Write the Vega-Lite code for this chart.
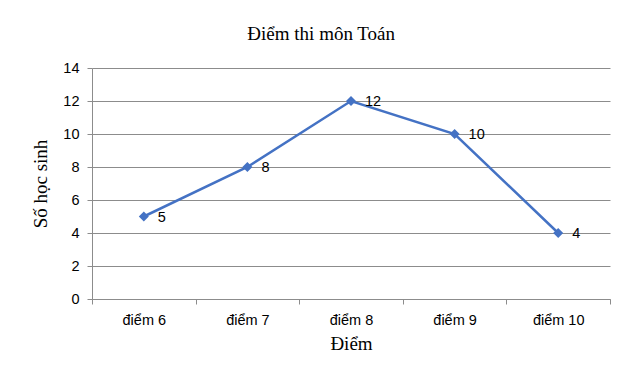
{
  "$schema": "https://vega.github.io/schema/vega-lite/v6.json",
  "autosize": {"type": "none"},
  "width": 518,
  "height": 231,
  "padding": {"left": 92, "top": 68, "right": 27, "bottom": 93},
  "background": "white",
  "config": {"view": {"stroke": null}},
  "title": {
    "text": "Điểm thi môn Toán",
    "font": "Liberation Serif",
    "fontSize": 19,
    "fontWeight": "normal",
    "color": "#000000",
    "anchor": "middle",
    "frame": "bounds",
    "offset": 16
  },
  "data": {
    "values": [
      {"diem": "điểm 6", "so": 5},
      {"diem": "điểm 7", "so": 8},
      {"diem": "điểm 8", "so": 12},
      {"diem": "điểm 9", "so": 10},
      {"diem": "điểm 10", "so": 4}
    ]
  },
  "encoding": {
    "x": {
      "field": "diem",
      "type": "ordinal",
      "sort": null,
      "scale": {"paddingInner": 0, "paddingOuter": 0, "type": "band"},
      "axis": {
        "title": "Điểm",
        "titleFont": "Liberation Serif",
        "titleFontSize": 19,
        "titleFontWeight": "normal",
        "titleColor": "#000000",
        "titlePadding": 8,
        "labelFont": "Liberation Sans",
        "labelFontSize": 14.5,
        "labelColor": "#000000",
        "labelAngle": 0,
        "labelPadding": 9,
        "domainColor": "#8c8c8c",
        "tickColor": "#8c8c8c",
        "tickSize": 5,
        "tickBand": "extent",
        "grid": false
      }
    },
    "y": {
      "field": "so",
      "type": "quantitative",
      "scale": {"domain": [0, 14]},
      "axis": {
        "title": "Số học sinh",
        "titleFont": "Liberation Serif",
        "titleFontSize": 19,
        "titleFontWeight": "normal",
        "titleColor": "#000000",
        "titlePadding": 12,
        "values": [0, 2, 4, 6, 8, 10, 12, 14],
        "labelFont": "Liberation Sans",
        "labelFontSize": 14.5,
        "labelColor": "#000000",
        "labelPadding": 8,
        "domainColor": "#8c8c8c",
        "tickColor": "#8c8c8c",
        "tickSize": 5,
        "gridColor": "#8c8c8c",
        "grid": true
      }
    }
  },
  "layer": [
    {
      "mark": {"type": "line", "color": "#4472C4", "strokeWidth": 2.5}
    },
    {
      "mark": {"type": "point", "shape": "diamond", "filled": true, "color": "#4472C4", "size": 100, "opacity": 1}
    },
    {
      "mark": {"type": "text", "align": "left", "baseline": "middle", "dx": 14, "dy": 1, "font": "Liberation Sans", "fontSize": 14.5, "color": "#000000"},
      "encoding": {"text": {"field": "so", "type": "quantitative"}}
    }
  ]
}
